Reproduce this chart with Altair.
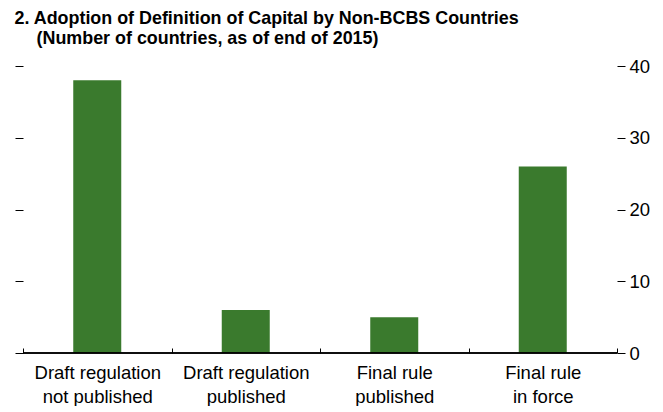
import altair as alt
import pandas as pd

categories = ["Draft regulation|not published", "Draft regulation|published",
              "Final rule|published", "Final rule|in force"]
counts = [38, 6, 5, 26]
y_ticks = [0, 10, 20, 30, 40]
title_line1 = "2. Adoption of Definition of Capital by Non-BCBS Countries"
title_line2 = "(Number of countries, as of end of 2015)"

df = pd.DataFrame({"category": categories, "count": counts})

FONT = "Liberation Sans, Arial, sans-serif"
GREEN = "#3A7A2D"

yscale = alt.Scale(domain=[0, 40], nice=False, zero=True)
xscale = alt.Scale(paddingInner=0, paddingOuter=0)

x_axis = alt.Axis(
    title=None, orient="bottom", offset=-5, domain=False, tickBand="extent",
    tickSize=5, tickColor="black", tickWidth=1, labelAngle=0,
    labelExpr="datum.value ? split(datum.value, '|') : ''",
    labelFont=FONT, labelFontSize=18.5,
    labelColor="black", labelPadding=10, labelLineHeight=24, grid=False,
)

bars = alt.Chart(df).mark_bar(size=48, color=GREEN).encode(
    x=alt.X("category:N", sort=categories, scale=xscale, axis=x_axis),
    y=alt.Y("count:Q", scale=yscale, axis=alt.Axis(
        orient="left", values=y_ticks, labels=False, domain=False, tickSize=8,
        tickColor="black", tickWidth=1, title=None, grid=False)),
)

right = alt.Chart(df).mark_bar(size=48, opacity=0).encode(
    x=alt.X("category:N", sort=categories, scale=xscale, axis=x_axis),
    y=alt.Y("count:Q", scale=yscale, axis=alt.Axis(
        orient="right", values=y_ticks, domain=False, tickSize=8,
        tickColor="black", tickWidth=1, title=None, grid=False,
        labelFont=FONT, labelFontSize=18.5, labelColor="black", labelPadding=4)),
)

base = alt.Chart(df).mark_rule(color="black", strokeWidth=1.2).encode(
    y=alt.YDatum(0, scale=yscale, axis=None),
)

inner = alt.layer(bars, right, base).resolve_axis(y="independent").properties(
    width=594, height=287,
    title=alt.TitleParams(
        text=title_line2, anchor="start", frame="bounds", dx=22,
        font=FONT, fontWeight="bold", fontSize=17.9, color="black", offset=9,
    ),
)

chart = alt.vconcat(inner).properties(
    padding={"left": 6, "top": 2, "right": 5, "bottom": 0},
    title=alt.TitleParams(
        text=title_line1, anchor="start", frame="bounds",
        font=FONT, fontWeight="bold", fontSize=17.9, color="black", offset=2,
    ),
).configure_view(stroke=None)

chart.save("out.html", embed_options={"renderer": "svg", "actions": False})
